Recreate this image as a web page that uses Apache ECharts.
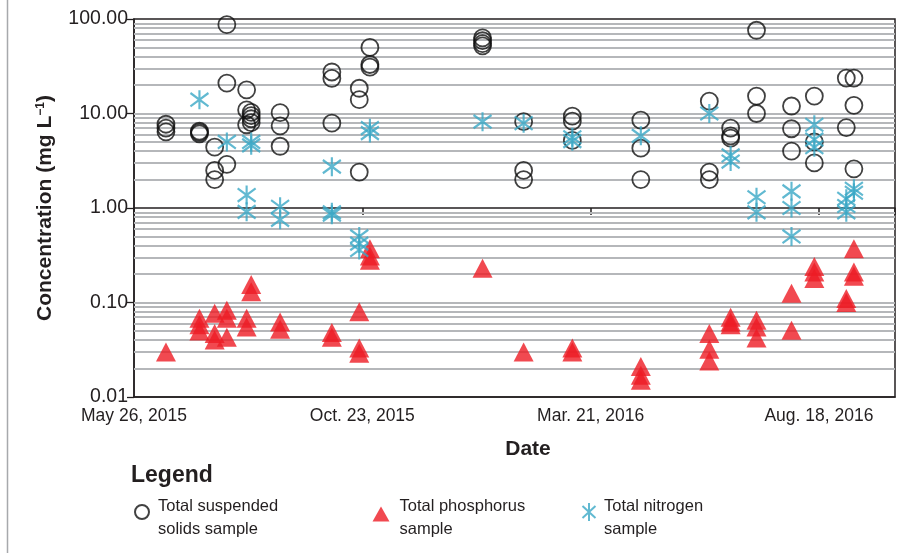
<!DOCTYPE html>
<html>
<head>
<meta charset="utf-8">
<script src="https://cdn.jsdelivr.net/npm/echarts@6/dist/echarts.min.js"></script>
<style>
  html, body { margin: 0; padding: 0; background: #ffffff; }
  #chart { width: 913px; height: 553px; }
</style>
</head>
<body>
<div id="chart"></div>
<script>
// ---------- data ----------
const startDate = '2015-05-26';
const xTickLabels = ['May 26, 2015', 'Oct. 23, 2015', 'Mar. 21, 2016', 'Aug. 18, 2016'];
const xTickIntervalDays = 150;
const xMaxDays = 500;

// Total suspended solids (mg/L)
const tssSamples = [
  ['2015-06-16', 7.7], ['2015-06-16', 7.0], ['2015-06-16', 6.4],
  ['2015-07-08', 6.5], ['2015-07-08', 6.3], ['2015-07-08', 6.1],
  ['2015-07-18', 4.4], ['2015-07-18', 2.5], ['2015-07-18', 2.0],
  ['2015-07-26', 87], ['2015-07-26', 21], ['2015-07-26', 2.9],
  ['2015-08-08', 17.8], ['2015-08-08', 10.9], ['2015-08-08', 7.6],
  ['2015-08-11', 10.3], ['2015-08-11', 9.5], ['2015-08-11', 8.8], ['2015-08-11', 8.0],
  ['2015-08-30', 10.2], ['2015-08-30', 7.4], ['2015-08-30', 4.5],
  ['2015-10-03', 27.5], ['2015-10-03', 23.5], ['2015-10-03', 7.9],
  ['2015-10-21', 18.5], ['2015-10-21', 14], ['2015-10-21', 2.4],
  ['2015-10-28', 50], ['2015-10-28', 33], ['2015-10-28', 31],
  ['2016-01-10', 63], ['2016-01-10', 59], ['2016-01-10', 55], ['2016-01-10', 52],
  ['2016-02-06', 8.2], ['2016-02-06', 2.5], ['2016-02-06', 2.0],
  ['2016-03-09', 9.4], ['2016-03-09', 8.3], ['2016-03-09', 5.2],
  ['2016-04-23', 8.5], ['2016-04-23', 4.3], ['2016-04-23', 2.0],
  ['2016-06-07', 13.5], ['2016-06-07', 2.4], ['2016-06-07', 2.0],
  ['2016-06-21', 7.0], ['2016-06-21', 5.8], ['2016-06-21', 5.5],
  ['2016-07-08', 76], ['2016-07-08', 15.3], ['2016-07-08', 10],
  ['2016-07-31', 12], ['2016-07-31', 6.9], ['2016-07-31', 4.0],
  ['2016-08-15', 15.3], ['2016-08-15', 5.0], ['2016-08-15', 3.0],
  ['2016-09-05', 23.7], ['2016-09-05', 7.1],
  ['2016-09-10', 23.7], ['2016-09-10', 12.2], ['2016-09-10', 2.6]
];

// Total phosphorus (mg/L)
const tpSamples = [
  ['2015-06-16', 0.030],
  ['2015-07-08', 0.068], ['2015-07-08', 0.058], ['2015-07-08', 0.050],
  ['2015-07-18', 0.077], ['2015-07-18', 0.047], ['2015-07-18', 0.040],
  ['2015-07-26', 0.083], ['2015-07-26', 0.068], ['2015-07-26', 0.043],
  ['2015-08-08', 0.068], ['2015-08-08', 0.055],
  ['2015-08-11', 0.155], ['2015-08-11', 0.130],
  ['2015-08-30', 0.062], ['2015-08-30', 0.052],
  ['2015-10-03', 0.048], ['2015-10-03', 0.043],
  ['2015-10-21', 0.080], ['2015-10-21', 0.033], ['2015-10-21', 0.029],
  ['2015-10-28', 0.37], ['2015-10-28', 0.31], ['2015-10-28', 0.28],
  ['2016-01-10', 0.23],
  ['2016-02-06', 0.030],
  ['2016-03-09', 0.033], ['2016-03-09', 0.030],
  ['2016-04-23', 0.021], ['2016-04-23', 0.017], ['2016-04-23', 0.015],
  ['2016-06-07', 0.047], ['2016-06-07', 0.032], ['2016-06-07', 0.024],
  ['2016-06-21', 0.070], ['2016-06-21', 0.062], ['2016-06-21', 0.058],
  ['2016-07-08', 0.065], ['2016-07-08', 0.055], ['2016-07-08', 0.042],
  ['2016-07-31', 0.125], ['2016-07-31', 0.051],
  ['2016-08-15', 0.24], ['2016-08-15', 0.21], ['2016-08-15', 0.18],
  ['2016-09-05', 0.11], ['2016-09-05', 0.10],
  ['2016-09-10', 0.37], ['2016-09-10', 0.21], ['2016-09-10', 0.19]
];

// Total nitrogen (mg/L)
const tnSamples = [
  ['2015-07-08', 14],
  ['2015-07-26', 5.0],
  ['2015-08-08', 1.37], ['2015-08-08', 0.91],
  ['2015-08-11', 5.0], ['2015-08-11', 4.6],
  ['2015-08-30', 1.03], ['2015-08-30', 0.75],
  ['2015-10-03', 2.74], ['2015-10-03', 0.90], ['2015-10-03', 0.85],
  ['2015-10-21', 0.50], ['2015-10-21', 0.42], ['2015-10-21', 0.36],
  ['2015-10-28', 7.0], ['2015-10-28', 6.2],
  ['2016-01-10', 8.2],
  ['2016-02-06', 7.9],
  ['2016-03-09', 5.6], ['2016-03-09', 5.1],
  ['2016-04-23', 5.8],
  ['2016-06-07', 10],
  ['2016-06-21', 3.6], ['2016-06-21', 3.1],
  ['2016-07-08', 1.3], ['2016-07-08', 0.9],
  ['2016-07-31', 1.5], ['2016-07-31', 1.0], ['2016-07-31', 0.5],
  ['2016-08-15', 7.6], ['2016-08-15', 5.3], ['2016-08-15', 4.4],
  ['2016-09-05', 1.25], ['2016-09-05', 1.05], ['2016-09-05', 0.9],
  ['2016-09-10', 1.6], ['2016-09-10', 1.45]
];

const seriesNames = ['Total suspended\nsolids sample', 'Total phosphorus\nsample', 'Total nitrogen\nsample'];

// horizontal gridlines of the log axis
const gridMultipliers = [1, 2, 3, 4, 5, 6, 7, 8, 9];
const gridDecades = [0.01, 0.1, 1, 10];

// ---------- helpers ----------
const DAY = 86400000;
function dayOffset(s) {
  const p = s.split('-').map(Number);
  const q = startDate.split('-').map(Number);
  return Math.round((Date.UTC(p[0], p[1] - 1, p[2]) - Date.UTC(q[0], q[1] - 1, q[2])) / DAY);
}
function toPoints(arr) { return arr.map(d => [dayOffset(d[0]), d[1]]); }

const gridValues = [];
gridDecades.forEach(d => gridMultipliers.forEach(m => {
  const v = +(m * d).toPrecision(3);
  if (v !== 0.01 && v !== 1) gridValues.push(v);
}));

const FONT = '"Liberation Sans", Arial, Helvetica, sans-serif';
const INK = '#231f20';
const TEAL = '#3aa8c6';
const RED = '#ed1c24';
const GRIDC = '#b5b7ba';
const ASTERISK = 'path://M9,0L9,20M0,3L18,17M0,17L18,3';
// legend icons: the mark sits a little above the centre of the text block
const LEGEND_CIRCLE = 'path://M0,7A7,7,0,1,1,14,7A7,7,0,1,1,0,7ZM7,26';
const LEGEND_TRIANGLE = 'path://M8.5,0L17,15L0,15ZM8.5,23';
const LEGEND_ASTERISK = 'path://M6.5,0L6.5,18M0,3L13,15M0,15L13,3M6.5,30';

const W = 913, H = 553;
const G = { left: 134, right: 18, top: 19, bottom: 156 };
const gridH = H - G.top - G.bottom;

const chart = echarts.init(document.getElementById('chart'), null, { renderer: 'canvas' });

const legendText = { fontFamily: FONT, fontSize: 16.5, color: INK, lineHeight: 23 };

const option = {
  animation: false,
  backgroundColor: '#ffffff',
  textStyle: { fontFamily: FONT },
  title: {
    text: 'Legend', left: 131, top: 464, padding: 0,
    textStyle: { fontFamily: FONT, fontSize: 23, fontWeight: 'bold', color: INK }
  },
  graphic: [{
    type: 'line', silent: true,
    shape: { x1: 7.5, y1: 0, x2: 7.5, y2: H },
    style: { stroke: '#a7a9ac', lineWidth: 1.5 }
  }],
  legend: [
    { data: [{ name: seriesNames[0], icon: LEGEND_CIRCLE }], left: 134, top: 495, padding: 0,
      itemWidth: 14, itemHeight: 26,
      textStyle: Object.assign({ padding: [0, 0, 0, 4] }, legendText) },
    { data: [{ name: seriesNames[1], icon: LEGEND_TRIANGLE }], left: 372.5, top: 495, padding: 0,
      itemWidth: 17, itemHeight: 23,
      textStyle: Object.assign({ padding: [0, 0, 0, 5] }, legendText) },
    { data: [{ name: seriesNames[2], icon: LEGEND_ASTERISK }], left: 581.5, top: 495, padding: 0,
      itemWidth: 13, itemHeight: 30,
      textStyle: Object.assign({ padding: [0, 0, 0, 3.5] }, legendText) }
  ],
  grid: {
    left: G.left, right: G.right, top: G.top, bottom: G.bottom,
    show: true, borderColor: INK, borderWidth: 1.5, backgroundColor: 'transparent'
  },
  xAxis: [
    {
      type: 'value', min: 0, max: xMaxDays, interval: xTickIntervalDays, position: 'bottom',
      axisLine: { show: true, lineStyle: { color: INK, width: 1.5 } },
      axisTick: { show: false },
      splitLine: { show: false },
      axisLabel: {
        color: INK, fontSize: 17.5, fontFamily: FONT, margin: 10,
        formatter: v => { const i = v / xTickIntervalDays; return Number.isInteger(i) && xTickLabels[i] ? xTickLabels[i] : ''; }
      },
      name: 'Date', nameLocation: 'middle', nameGap: 42,
      nameTextStyle: { fontFamily: FONT, fontSize: 21, fontWeight: 'bold', color: INK, padding: [0, 0, 0, 27] }
    },
    {
      type: 'value', min: 0, max: xMaxDays, interval: xTickIntervalDays, position: 'bottom',
      offset: -gridH / 2,
      axisLine: { show: true, lineStyle: { color: INK, width: 1.5 } },
      axisTick: { show: true, length: 7, lineStyle: { color: INK, width: 1.5 } },
      axisLabel: { show: false },
      splitLine: { show: false }
    }
  ],
  yAxis: {
    type: 'log', logBase: 10, min: 0.01, max: 100,
    axisLine: { show: true, lineStyle: { color: INK, width: 1.5 } },
    axisTick: { show: true, length: 7, lineStyle: { color: INK, width: 1.3 } },
    splitLine: { show: false },
    axisLabel: { color: INK, fontSize: 19.5, fontFamily: FONT, margin: 6,
      formatter: v => Number(v).toFixed(2) },
    name: 'Concentration (mg L{sup|−1})',
    nameLocation: 'middle', nameRotate: 90, nameGap: 78,
    nameTextStyle: {
      fontFamily: FONT, fontSize: 21, fontWeight: 'bold', color: INK,
      rich: { sup: { fontFamily: FONT, fontSize: 12, fontWeight: 'bold', color: INK, verticalAlign: 'top', padding: [0, 0, 8, 0] } }
    }
  },
  series: [
    {
      name: seriesNames[0], type: 'scatter', xAxisIndex: 0,
      symbol: 'circle', symbolSize: 17,
      itemStyle: { color: 'rgba(0,0,0,0)', borderColor: '#111111', borderWidth: 1.8 },
      data: toPoints(tssSamples), z: 3,
      markLine: {
        silent: true, symbol: ['none', 'none'], z: 1, animation: false,
        label: { show: false },
        lineStyle: { color: GRIDC, width: 1.8, type: 'solid' },
        emphasis: { disabled: true },
        data: gridValues.map(v => ({ yAxis: v }))
      }
    },
    {
      name: seriesNames[1], type: 'scatter', xAxisIndex: 0,
      symbol: 'triangle', symbolSize: [20, 19],
      itemStyle: { color: RED },
      data: toPoints(tpSamples), z: 3
    },
    {
      name: seriesNames[2], type: 'scatter', xAxisIndex: 0,
      symbol: ASTERISK, symbolSize: [18, 19],
      itemStyle: { color: 'rgba(0,0,0,0)', borderColor: TEAL, borderWidth: 2.2 },
      data: toPoints(tnSamples), z: 4
    }
  ]
};

chart.setOption(option);
</script>
</body>
</html>
